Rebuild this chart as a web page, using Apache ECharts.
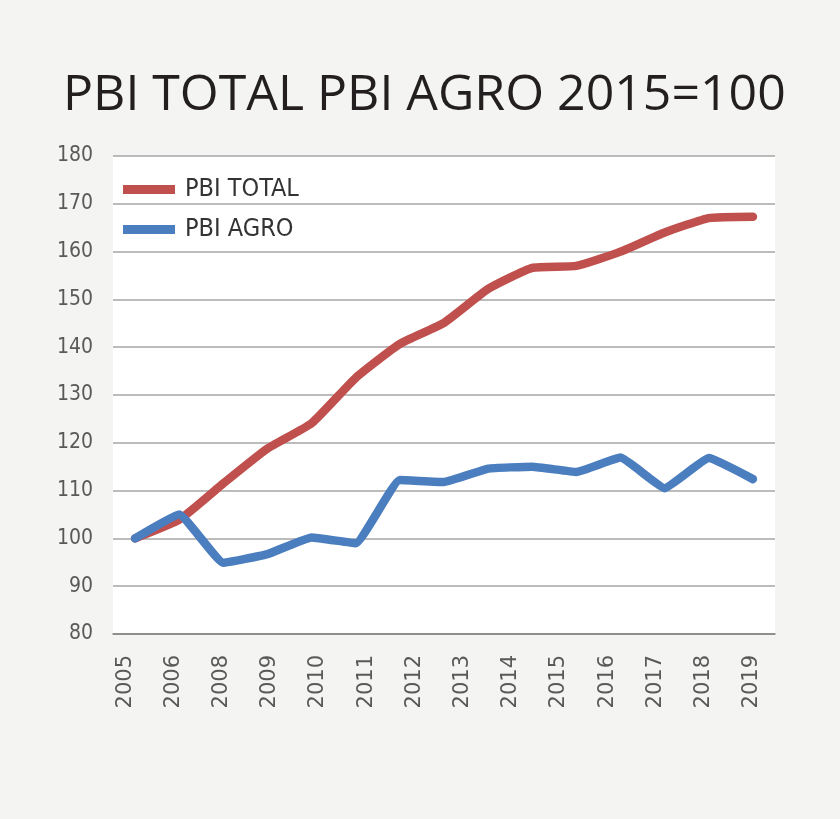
<!doctype html>
<html lang="es">
    <head>
        <meta charset="UTF-8">
        <style>
            html, body { margin: 0; padding: 0; background: #f4f5f2; }
            #main { width: 840px; height: 819px; }
        </style>
    </head>
    <body>
        <div id="main"></div>
        <script src="https://cdn.jsdelivr.net/npm/echarts@6/dist/echarts.min.js"></script>
        <script type="text/javascript">
        // datos (indice 2015=100)
        var years = ['2005', '2006', '2007', '2008', '2009', '2010', '2011', '2012',
                     '2013', '2014', '2015', '2016', '2017', '2018', '2019'];
        // etiquetas tal como aparecen impresas en el eje (falta 2007)
        var tickLabels = ['2005', '2006', '2008', '2009', '2010', '2011', '2012',
                          '2013', '2014', '2015', '2016', '2017', '2018', '2019'];
        var pbiTotal = [100, 103.9, 111.5, 118.8, 124.1, 133.6, 140.7, 145.1,
                        152.2, 156.6, 157.0, 160.0, 164.0, 167.0, 167.3];
        var pbiAgro = [100, 105.0, 94.9, 96.7, 100.2, 99.0, 112.2, 111.8,
                       114.6, 115.0, 113.9, 116.9, 110.5, 116.8, 112.4];
        var yTicks = [80, 90, 100, 110, 120, 130, 140, 150, 160, 170, 180];

        var myChart = echarts.init(document.getElementById('main'));

        var narrow = '"Liberation Sans Narrow", "DejaVu Sans Condensed", sans-serif';

        var option = {
            backgroundColor: '#f4f5f2',
            animation: false,
            title: {
                text: 'PBI TOTAL PBI AGRO 2015=100',
                left: 58,
                top: 66,
                textStyle: {
                    fontFamily: '"Open Sans", sans-serif',
                    fontSize: 50,
                    fontWeight: 'normal',
                    color: '#231f20'
                }
            },
            legend: {
                orient: 'vertical',
                left: 118,
                top: 172,
                itemWidth: 52,
                itemHeight: 9,
                itemGap: 15,
                icon: 'rect',
                data: ['PBI TOTAL', 'PBI AGRO'],
                textStyle: {
                    fontFamily: narrow,
                    fontSize: 25,
                    color: '#333333',
                    padding: [0, 0, 0, 5]
                }
            },
            grid: [
                {
                    left: 113, right: 65, top: 156, bottom: 185,
                    show: true, backgroundColor: '#ffffff', borderWidth: 0
                },
                {
                    left: 101, right: 64, top: 156, bottom: 185,
                    show: false
                }
            ],
            xAxis: [
                {
                    type: 'category',
                    gridIndex: 0,
                    data: years,
                    boundaryGap: true,
                    axisLine: { lineStyle: { color: '#808080', width: 1.5 } },
                    axisTick: { length: 8, lineStyle: { color: '#808080', width: 1.5 } },
                    axisLabel: { show: false }
                },
                {
                    type: 'category',
                    gridIndex: 1,
                    data: tickLabels,
                    boundaryGap: true,
                    axisLine: { show: false },
                    axisTick: { show: false },
                    axisLabel: {
                        rotate: 90,
                        margin: 21,
                        fontFamily: '"DejaVu Sans", sans-serif',
                        fontSize: 21,
                        color: '#595959'
                    }
                }
            ],
            yAxis: [
                {
                    type: 'value',
                    gridIndex: 0,
                    min: yTicks[0],
                    max: yTicks[yTicks.length - 1],
                    interval: 10,
                    axisLine: { show: false },
                    axisTick: { show: false },
                    splitLine: { lineStyle: { color: '#a6a6a6', width: 1.5 } },
                    axisLabel: {
                        margin: 20,
                        fontFamily: narrow,
                        fontSize: 21,
                        color: '#595959'
                    }
                },
                {
                    type: 'value',
                    gridIndex: 1,
                    show: false
                }
            ],
            series: [
                {
                    name: 'PBI TOTAL',
                    type: 'line',
                    xAxisIndex: 0,
                    yAxisIndex: 0,
                    data: pbiTotal,
                    showSymbol: false,
                    smooth: 0.15,
                    itemStyle: { color: '#c0504d' },
                    lineStyle: { color: '#c0504d', width: 8.5, cap: 'round', join: 'round' }
                },
                {
                    name: 'PBI AGRO',
                    type: 'line',
                    xAxisIndex: 0,
                    yAxisIndex: 0,
                    data: pbiAgro,
                    showSymbol: false,
                    smooth: 0.1,
                    itemStyle: { color: '#4a7ebf' },
                    lineStyle: { color: '#4a7ebf', width: 8.5, cap: 'round', join: 'round' }
                }
            ]
        };
        myChart.setOption(option);
        </script>
    </body>
</html>
